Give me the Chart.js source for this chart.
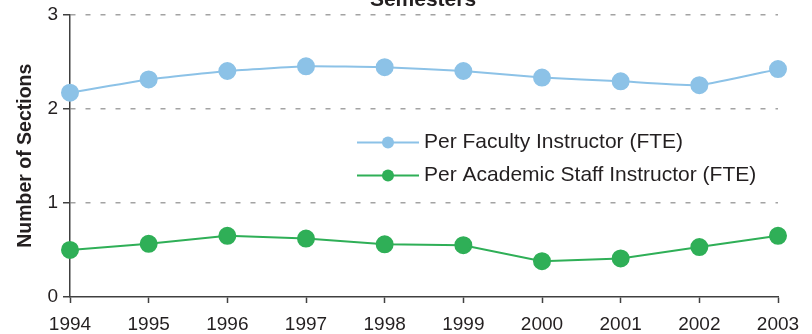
<!DOCTYPE html>
<html>
<head>
<meta charset="utf-8">
<script src="https://cdn.jsdelivr.net/npm/chart.js@4/dist/chart.umd.min.js"></script>
<style>
  html, body { margin: 0; padding: 0; background: #ffffff; overflow: hidden; }
  #wrap { position: relative; width: 812px; height: 334px; }
  canvas { display: block; }
</style>
</head>
<body>
<div id="wrap"><canvas id="chart" width="812" height="334"></canvas></div>
<script>
// Sections taught per instructor, by year
const years = ['1994', '1995', '1996', '1997', '1998', '1999', '2000', '2001', '2002', '2003'];
const perFaculty = [2.17, 2.31, 2.40, 2.45, 2.44, 2.40, 2.33, 2.29, 2.25, 2.42];
const perAcademicStaff = [0.50, 0.565, 0.65, 0.62, 0.56, 0.55, 0.38, 0.41, 0.53, 0.65];
const seriesNames = ['Per Faculty Instructor (FTE)', 'Per Academic Staff Instructor (FTE)'];
const chartTitle = 'Semesters';
const yAxisTitle = 'Number of Sections';

const FONT = '"Liberation Sans", Arial, Helvetica, sans-serif';
const TEXT = '#231f20';
const AXIS = '#404040';
const BLUE = '#8cc2e7';
const GREEN = '#2faf57';

// Title sits partly above the top edge of the canvas
const titlePlugin = {
  id: 'topTitle',
  afterDraw(chart) {
    const ctx = chart.ctx;
    ctx.save();
    ctx.font = 'bold 21px ' + FONT;
    ctx.fillStyle = TEXT;
    ctx.textAlign = 'center';
    ctx.textBaseline = 'alphabetic';
    ctx.fillText(chartTitle, 423, 6);
    ctx.restore();
  }
};

// Legend drawn inside the plot area, to the right of center
const insideLegend = {
  id: 'insideLegend',
  afterDatasetsDraw(chart) {
    const ctx = chart.ctx;
    const area = chart.chartArea;
    const x0 = area.left + 287;
    const rows = [area.top + 128, area.top + 161];
    ctx.save();
    chart.data.datasets.forEach((ds, i) => {
      const y = rows[i];
      ctx.strokeStyle = ds.borderColor;
      ctx.lineWidth = 2;
      ctx.beginPath();
      ctx.moveTo(x0, y);
      ctx.lineTo(x0 + 62, y);
      ctx.stroke();
      ctx.fillStyle = ds.pointBackgroundColor;
      ctx.beginPath();
      ctx.arc(x0 + 31, y, 6, 0, Math.PI * 2);
      ctx.fill();
      ctx.fillStyle = TEXT;
      ctx.font = '21px ' + FONT;
      ctx.textAlign = 'left';
      ctx.textBaseline = 'middle';
      ctx.fillText(ds.label, x0 + 67, y);
    });
    ctx.restore();
  }
};

new Chart(document.getElementById('chart'), {
  type: 'line',
  data: {
    labels: years,
    datasets: [
      {
        label: seriesNames[0],
        data: perFaculty,
        borderColor: BLUE,
        backgroundColor: BLUE,
        pointBackgroundColor: BLUE,
        pointBorderColor: BLUE,
        borderWidth: 2,
        pointRadius: 8,
        pointHoverRadius: 8,
        tension: 0.15
      },
      {
        label: seriesNames[1],
        data: perAcademicStaff,
        borderColor: GREEN,
        backgroundColor: GREEN,
        pointBackgroundColor: GREEN,
        pointBorderColor: GREEN,
        borderWidth: 2,
        pointRadius: 8,
        pointHoverRadius: 8,
        tension: 0
      }
    ]
  },
  options: {
    responsive: false,
    devicePixelRatio: 1,
    animation: false,
    events: [],
    layout: { padding: { top: 2, right: 34, bottom: 0, left: 10 } },
    plugins: {
      legend: { display: false },
      title: { display: false },
      tooltip: { enabled: false }
    },
    scales: {
      x: {
        type: 'category',
        offset: false,
        afterFit: (s) => { s.height = 37; },
        border: { display: true, color: AXIS, width: 1.5 },
        grid: {
          drawOnChartArea: false,
          drawTicks: true,
          tickLength: 6,
          tickColor: AXIS,
          tickWidth: 1.5
        },
        ticks: {
          color: TEXT,
          font: { family: FONT, size: 19 },
          padding: 10,
          maxRotation: 0,
          autoSkip: false
        }
      },
      y: {
        min: 0,
        max: 3,
        afterFit: (s) => { s.width = 60; },
        border: { display: true, color: AXIS, width: 1.5, dash: [5, 10] },
        grid: {
          color: (c) => (c.tick && c.tick.value === 0 ? 'rgba(0,0,0,0)' : '#a3a3a3'),
          lineWidth: 1.5,
          tickBorderDash: [],
          tickColor: AXIS,
          tickWidth: 1.5,
          tickLength: 7
        },
        ticks: {
          stepSize: 1,
          color: TEXT,
          font: { family: FONT, size: 19, lineHeight: 1.0 },
          padding: 5
        },
        title: {
          display: true,
          text: yAxisTitle,
          color: TEXT,
          font: { family: FONT, size: 19.5, weight: 'bold' },
          padding: { top: 4, bottom: 8 }
        }
      }
    }
  },
  plugins: [titlePlugin, insideLegend]
});
</script>
</body>
</html>
